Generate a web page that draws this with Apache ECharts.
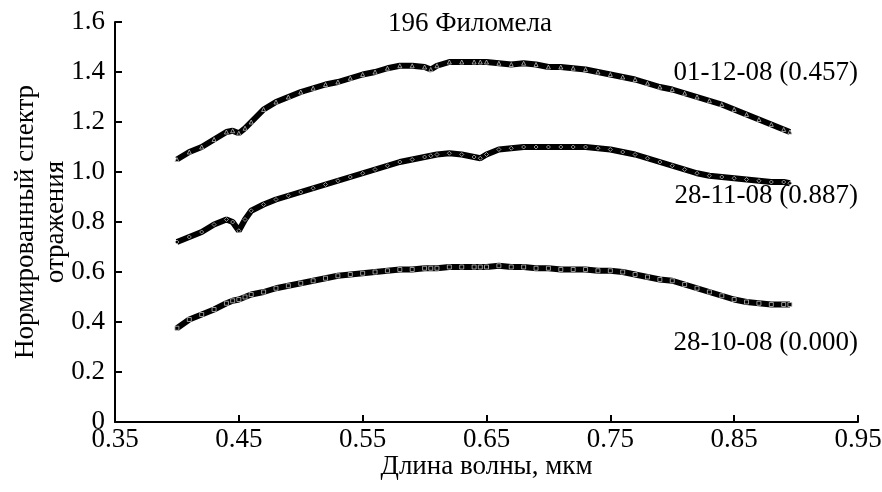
<!DOCTYPE html>
<html>
<head>
<meta charset="utf-8">
<script src="https://cdn.jsdelivr.net/npm/echarts@6/dist/echarts.min.js"></script>
<style>
  html, body { margin: 0; padding: 0; background: #fff; }
  #chart { width: 882px; height: 492px; }
</style>
</head>
<body>
<div id="chart"></div>
<script>
// длина волны, мкм
const wavelengths = [0.40, 0.41, 0.42, 0.43, 0.44, 0.445, 0.45, 0.455, 0.46, 0.47, 0.48, 0.49,
  0.50, 0.51, 0.52, 0.53, 0.54, 0.55, 0.56, 0.57, 0.58, 0.59, 0.60, 0.605, 0.61, 0.62, 0.63,
  0.64, 0.645, 0.65, 0.66, 0.67, 0.68, 0.69, 0.70, 0.71, 0.72, 0.73, 0.74, 0.75, 0.76, 0.77,
  0.78, 0.79, 0.80, 0.81, 0.82, 0.83, 0.84, 0.85, 0.86, 0.87, 0.88, 0.89, 0.895];

const dec01 = [1.05, 1.08, 1.10, 1.13, 1.16, 1.165, 1.155, 1.175, 1.20, 1.25, 1.28, 1.30,
  1.32, 1.335, 1.35, 1.36, 1.375, 1.39, 1.40, 1.415, 1.425, 1.425, 1.42, 1.41, 1.425, 1.44, 1.44,
  1.44, 1.44, 1.44, 1.435, 1.43, 1.435, 1.43, 1.42, 1.42, 1.415, 1.41, 1.40, 1.39, 1.38, 1.37,
  1.355, 1.34, 1.33, 1.315, 1.30, 1.285, 1.27, 1.25, 1.23, 1.21, 1.19, 1.17, 1.16];

const nov28 = [0.72, 0.74, 0.76, 0.79, 0.81, 0.80, 0.765, 0.81, 0.845, 0.87, 0.89, 0.905,
  0.92, 0.935, 0.95, 0.965, 0.98, 0.995, 1.01, 1.025, 1.04, 1.05, 1.06, 1.065, 1.07, 1.075, 1.07,
  1.06, 1.055, 1.07, 1.09, 1.095, 1.10, 1.10, 1.10, 1.10, 1.10, 1.10, 1.095, 1.09, 1.08, 1.07,
  1.055, 1.04, 1.025, 1.01, 0.995, 0.985, 0.98, 0.975, 0.97, 0.965, 0.96, 0.96, 0.955];

const oct28 = [0.375, 0.41, 0.43, 0.45, 0.475, 0.485, 0.49, 0.50, 0.51, 0.52, 0.535, 0.545,
  0.555, 0.565, 0.575, 0.585, 0.59, 0.595, 0.60, 0.605, 0.61, 0.61, 0.615, 0.615, 0.615, 0.62, 0.62,
  0.62, 0.62, 0.62, 0.625, 0.62, 0.62, 0.615, 0.615, 0.61, 0.61, 0.61, 0.605, 0.605, 0.60, 0.59,
  0.58, 0.57, 0.565, 0.55, 0.535, 0.52, 0.505, 0.49, 0.48, 0.475, 0.47, 0.47, 0.47];

const seriesNames = ['01-12-08 (0.457)', '28-11-08 (0.887)', '28-10-08 (0.000)'];

const font = '"Liberation Serif", "DejaVu Serif", serif';
const fs = 27;

function pairs(vals) {
  return wavelengths.map((w, i) => [w, vals[i]]);
}

function line(name, vals, symbol) {
  return {
    name: name,
    type: 'line',
    data: pairs(vals),
    symbol: symbol,
    symbolSize: 4,
    showAllSymbol: true,
    lineStyle: { color: '#000', width: 6 },
    itemStyle: { color: '#000', borderColor: '#bbb', borderWidth: 0.8 },
    emphasis: { disabled: true },
    animation: false
  };
}

const chart = echarts.init(document.getElementById('chart'));
chart.setOption({
  animation: false,
  grid: { left: 115, right: 24, top: 22, bottom: 70, containLabel: false, outerBoundsMode: 'none' },
  xAxis: {
    type: 'value',
    min: 0.35,
    max: 0.95,
    interval: 0.1,
    name: 'Длина волны, мкм',
    nameLocation: 'middle',
    nameGap: 31,
    nameMoveOverlap: false,
    nameTextStyle: { fontFamily: font, fontSize: fs, color: '#000' },
    axisLine: { lineStyle: { color: '#000', width: 2 } },
    axisTick: { inside: true, length: 7, lineStyle: { color: '#000', width: 2 } },
    axisLabel: { fontFamily: font, fontSize: fs, color: '#000', margin: 4,
      formatter: v => v.toFixed(2) },
    splitLine: { show: false }
  },
  yAxis: {
    type: 'value',
    min: 0,
    max: 1.6,
    interval: 0.2,
    name: 'Нормированный спектр\nотражения',
    nameLocation: 'middle',
    nameRotate: 90,
    nameGap: 44,
    nameMoveOverlap: false,
    nameTextStyle: { fontFamily: font, fontSize: fs, color: '#000', lineHeight: 30 },
    axisLine: { show: true, lineStyle: { color: '#000', width: 2 } },
    axisTick: { show: true, inside: true, length: 7, lineStyle: { color: '#000', width: 2 } },
    axisLabel: { fontFamily: font, fontSize: fs, color: '#000', margin: 10,
      formatter: v => v === 0 ? '0' : v.toFixed(1) },
    splitLine: { show: false }
  },
  graphic: [
    { type: 'text', x: 470, y: 10,
      style: { text: '196 Филомела', font: fs + 'px ' + font, fill: '#000', textAlign: 'center' } },
    { type: 'text', right: 24, top: 59,
      style: { text: seriesNames[0], font: fs + 'px ' + font, fill: '#000' } },
    { type: 'text', right: 24, top: 182,
      style: { text: seriesNames[1], font: fs + 'px ' + font, fill: '#000' } },
    { type: 'text', right: 24, top: 329,
      style: { text: seriesNames[2], font: fs + 'px ' + font, fill: '#000' } }
  ],
  series: [
    line(seriesNames[0], dec01, 'triangle'),
    line(seriesNames[1], nov28, 'diamond'),
    line(seriesNames[2], oct28, 'rect')
  ]
});
</script>
</body>
</html>
